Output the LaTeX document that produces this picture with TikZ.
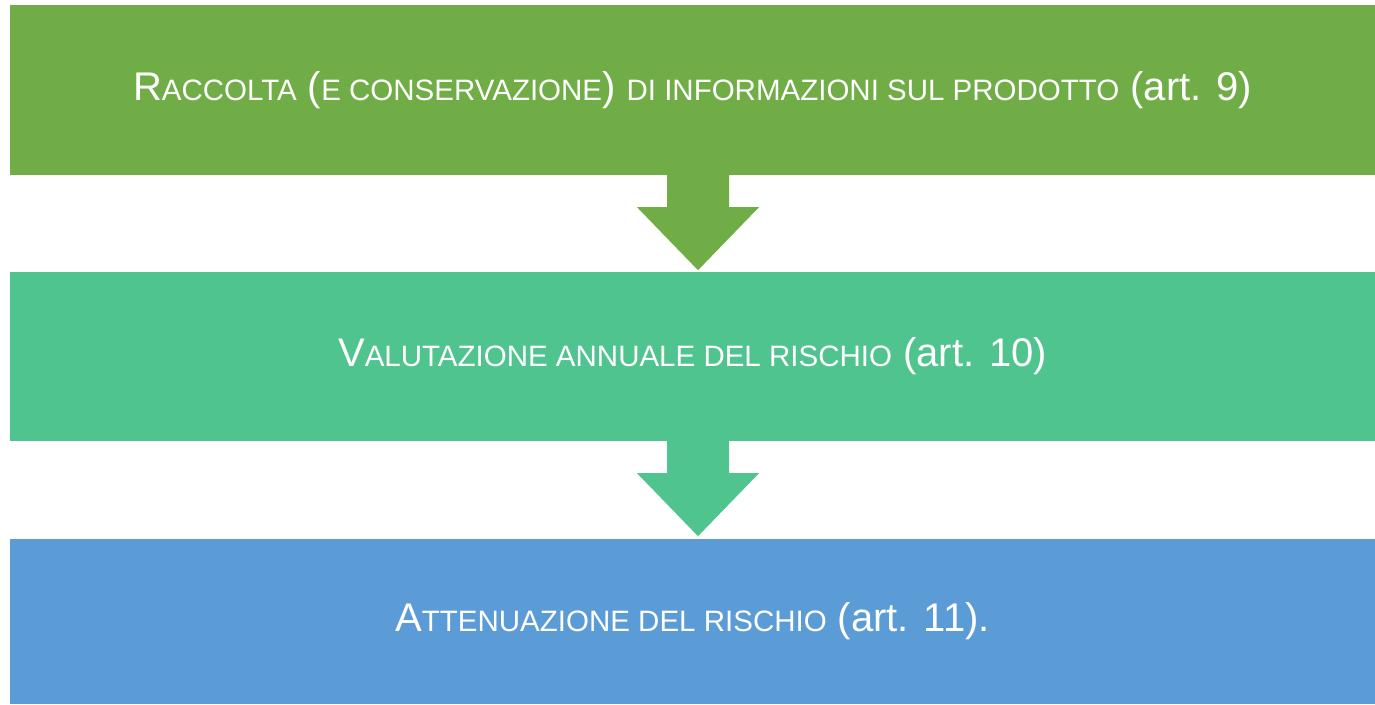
\documentclass[tikz,border=0pt]{standalone}
\usepackage{fontspec}
\setmainfont{Liberation Sans}
\usetikzlibrary{calc}
\definecolor{green1}{rgb}{0.44, 0.68, 0.28}
\definecolor{green2}{rgb}{0.31, 0.77, 0.56}
\definecolor{blue1}{rgb}{0.36, 0.61, 0.84}
\newcommand\smc[1]{{\fontsize{29.5}{31}\selectfont #1}}
\begin{document}
\begin{tikzpicture}[x=1pt,y=-1pt,
        stepbox/.style={minimum width=1365pt,inner sep=0pt,text=white,
            font=\fontsize{40}{42}\selectfont}]
        \useasboundingbox (0,0) rectangle (1375,704);
        \node[stepbox,fill=green1,minimum height=170pt] (b1) at (692.5,90)
            {R\smc{ACCOLTA} (\smc{E CONSERVAZIONE}) \smc{DI INFORMAZIONI SUL PRODOTTO} (art. 9)};
        \node[stepbox,fill=green2,minimum height=169pt] (b2) at (692.5,356.5)
            {V\smc{ALUTAZIONE ANNUALE DEL RISCHIO} (art. 10)};
        \node[stepbox,fill=blue1,minimum height=165pt] (b3) at (692.5,621.5)
            {A\smc{TTENUAZIONE DEL RISCHIO} (art. 11).};
        \path[fill=green1] ([xshift=5.5pt]b1.south) ++(-31,0) -- ++(0,32) -- ++(-30,0)
            -- ++(61,63) -- ++(61,-63) -- ++(-30,0) -- ++(0,-32) -- cycle;
        \path[fill=green2] ([xshift=5.5pt]b2.south) ++(-31,0) -- ++(0,32) -- ++(-30,0)
            -- ++(61,63) -- ++(61,-63) -- ++(-30,0) -- ++(0,-32) -- cycle;
    \end{tikzpicture}
\end{document}
